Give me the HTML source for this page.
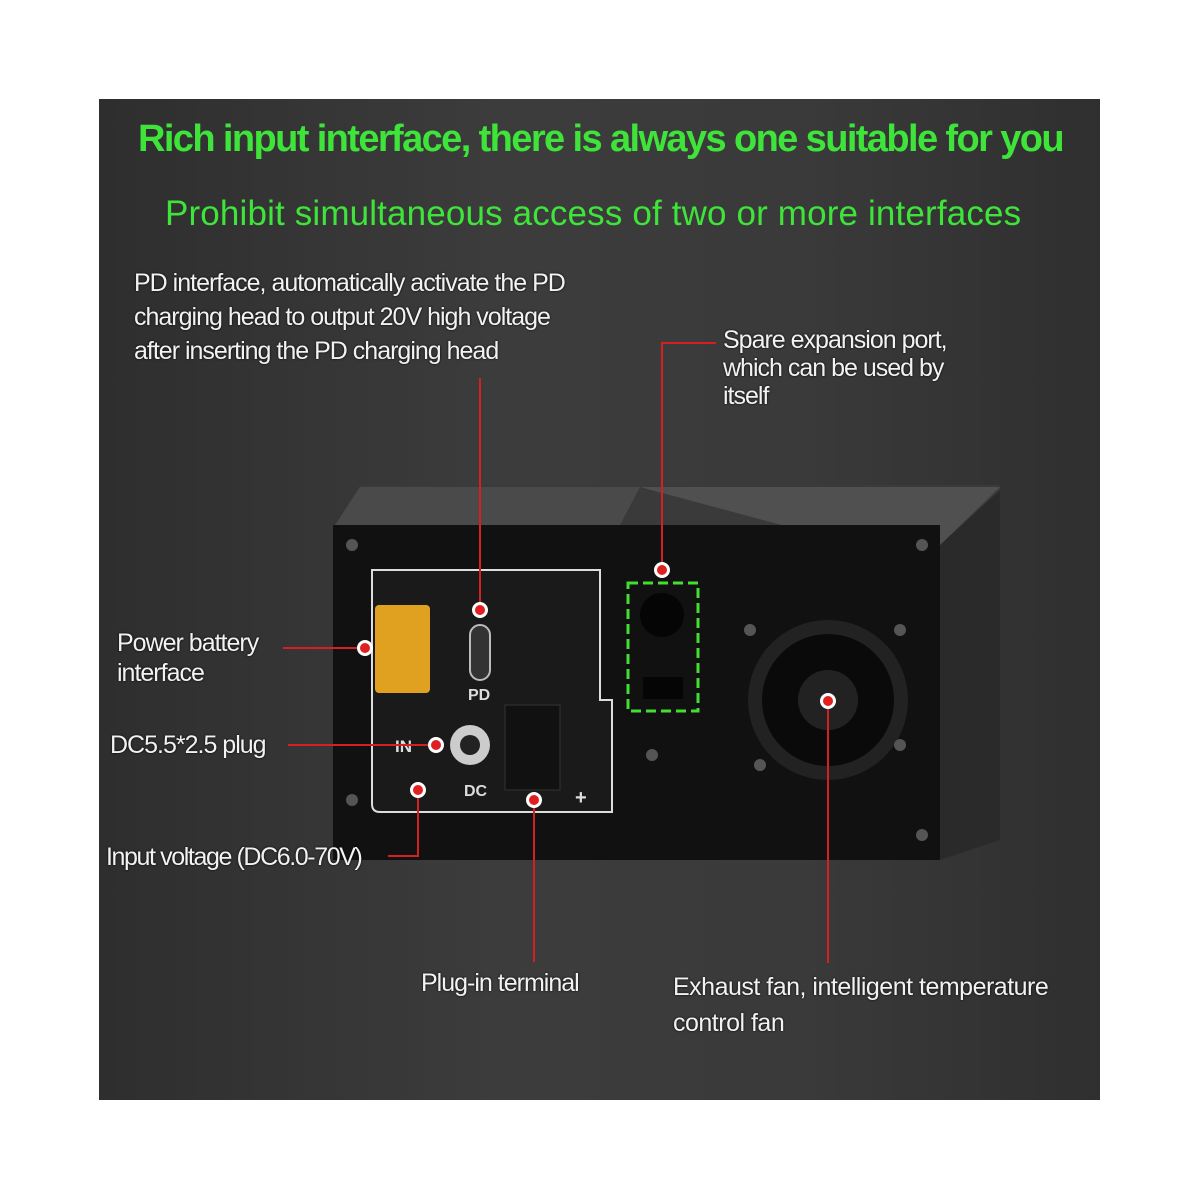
<!DOCTYPE html>
<html><head><meta charset="utf-8"><style>
body{margin:0;background:#fff;width:1200px;height:1200px;position:relative;overflow:hidden;font-family:"Liberation Sans",sans-serif}
.panel{position:absolute;left:99px;top:99px;width:1001px;height:1001px;background:linear-gradient(90deg,#2e2e2e,#3c3c3c 40%,#3a3a3a 70%,#2f2f2f)}
.t{position:absolute;color:#f2f2f2;font-size:25px;letter-spacing:-1px;line-height:34px;text-shadow:0 0 2px #000;white-space:nowrap}
.g{position:absolute;color:#3fe43a;white-space:nowrap}
.l{position:absolute;background:#d42020}
.d{position:absolute;width:10px;height:10px;border-radius:50%;background:#e02020;border:3px solid #fff;margin:-8px 0 0 -8px}
</style></head><body>
<div class="panel"></div>
<svg style="position:absolute;left:0;top:0" width="1200" height="1200">
<polygon points="335,525 360,485 1000,485 1000,840 940,860 940,525" fill="#3a3a3a"/>
<polygon points="940,545 1000,490 1000,840 940,860" fill="#2a2a2a"/>
<polygon points="360,487 640,487 620,525 335,525" fill="#4a4a4a"/>
<polygon points="640,487 1000,487 940,545 800,530" fill="#505050"/>
<rect x="333" y="525" width="607" height="335" fill="#111"/>
<path d="M372,570 H600 V700 H612 V812 H380 Q372,812 372,804 Z" fill="#1a1a1a" stroke="#ddd" stroke-width="2"/>
<rect x="375" y="605" width="55" height="88" rx="4" fill="#e0a020"/>
<rect x="470" y="625" width="20" height="55" rx="10" fill="#333" stroke="#bbb" stroke-width="2"/>
<circle cx="470" cy="745" r="20" fill="#ccc"/><circle cx="470" cy="745" r="10" fill="#222"/>
<rect x="505" y="705" width="55" height="85" fill="#111" stroke="#333"/>
<rect x="628" y="583" width="70" height="128" fill="none" stroke="#44dd33" stroke-width="3" stroke-dasharray="10,5"/>
<circle cx="662" cy="615" r="22" fill="#050505"/><rect x="643" y="677" width="40" height="22" fill="#050505"/>
<circle cx="828" cy="700" r="80" fill="#222"/><circle cx="828" cy="700" r="66" fill="#0a0a0a"/><circle cx="828" cy="700" r="30" fill="#222"/>
<g fill="#555"><circle cx="352" cy="545" r="6"/><circle cx="922" cy="545" r="6"/><circle cx="352" cy="800" r="6"/><circle cx="922" cy="835" r="6"/><circle cx="750" cy="630" r="6"/><circle cx="900" cy="630" r="6"/><circle cx="760" cy="765" r="6"/><circle cx="900" cy="745" r="6"/><circle cx="652" cy="755" r="6"/></g>
<text x="468" y="700" fill="#ddd" font-size="16" font-weight="bold" font-family="Liberation Sans">PD</text>
<text x="395" y="752" fill="#ddd" font-size="17" font-weight="bold" font-family="Liberation Sans">IN</text>
<text x="464" y="796" fill="#ddd" font-size="16" font-weight="bold" font-family="Liberation Sans">DC</text>
<text x="575" y="804" fill="#ddd" font-size="20" font-weight="bold" font-family="Liberation Sans">+</text>
</svg>
<div class="g" style="left:138px;top:118px;font-size:38px;font-weight:bold;letter-spacing:-1.6px">Rich input interface, there is always one suitable for you</div>
<div class="g" style="left:165px;top:194px;font-size:35px;letter-spacing:0.15px">Prohibit simultaneous access of two or more interfaces</div>
<div class="t" style="left:134px;top:266px">PD interface, automatically activate the PD<br>charging head to output 20V high voltage<br>after inserting the PD charging head</div>
<div class="t" style="left:723px;top:326px;line-height:28px">Spare expansion port,<br>which can be used by<br>itself</div>
<div class="t" style="left:117px;top:628px;line-height:30px">Power battery<br>interface</div>
<div class="t" style="left:110px;top:728px">DC5.5*2.5 plug</div>
<div class="t" style="left:106px;top:840px;letter-spacing:-1.4px">Input voltage (DC6.0-70V)</div>
<div class="t" style="left:421px;top:966px">Plug-in terminal</div>
<div class="t" style="left:673px;top:969px;line-height:36px;letter-spacing:-0.5px">Exhaust fan, intelligent temperature<br>control fan</div>
<div class="l" style="left:479px;top:378px;width:2px;height:232px"></div>
<div class="l" style="left:661px;top:342px;width:2px;height:228px"></div>
<div class="l" style="left:661px;top:342px;width:55px;height:2px"></div>
<div class="l" style="left:283px;top:647px;width:82px;height:2px"></div>
<div class="l" style="left:288px;top:744px;width:148px;height:2px"></div>
<div class="l" style="left:417px;top:790px;width:2px;height:66px"></div>
<div class="l" style="left:388px;top:855px;width:31px;height:2px"></div>
<div class="l" style="left:533px;top:800px;width:2px;height:162px"></div>
<div class="l" style="left:827px;top:701px;width:2px;height:262px"></div>
<div class="d" style="left:480px;top:610px"></div>
<div class="d" style="left:662px;top:570px"></div>
<div class="d" style="left:365px;top:648px"></div>
<div class="d" style="left:436px;top:745px"></div>
<div class="d" style="left:418px;top:790px"></div>
<div class="d" style="left:534px;top:800px"></div>
<div class="d" style="left:828px;top:701px"></div>
</body></html>
